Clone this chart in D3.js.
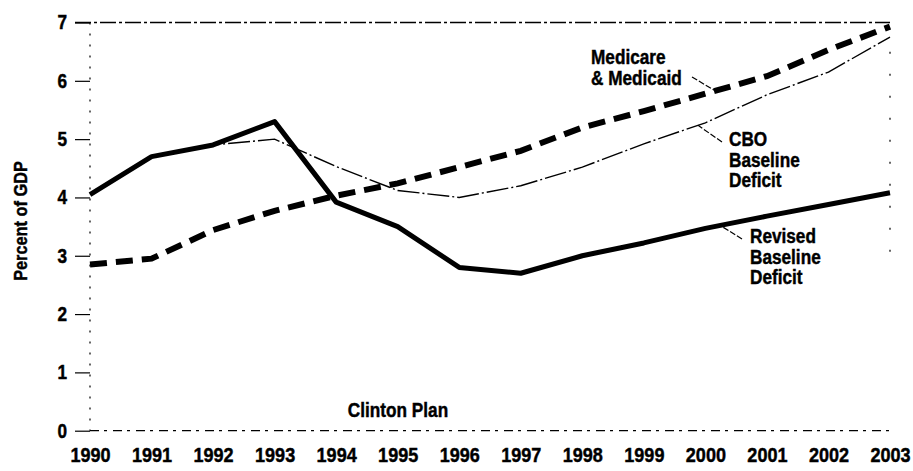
<!DOCTYPE html>
<html>
<head>
<meta charset="utf-8">
<script src="https://cdn.jsdelivr.net/npm/d3@7"></script>
<style>
  body { margin: 0; background: #fff; }
  text { font-family: "Liberation Sans", Arial, sans-serif; font-weight: bold; fill: #000; stroke: #000; stroke-width: 0.45px; }
</style>
</head>
<body>
<script>
// data
const years = [1990, 1991, 1992, 1993, 1994, 1995, 1996, 1997, 1998, 1999, 2000, 2001, 2002, 2003]
const revisedDeficit = [4.05, 4.7, 4.9, 5.3, 3.92, 3.5, 2.8, 2.7, 3.0, 3.22, 3.47, 3.68, 3.88, 4.08]
const cboDeficit = [4.05, 4.7, 4.9, 5.0, 4.53, 4.12, 4.0, 4.2, 4.52, 4.92, 5.28, 5.76, 6.15, 6.75]
const medicare = [2.85, 2.95, 3.44, 3.77, 4.03, 4.24, 4.52, 4.8, 5.2, 5.48, 5.78, 6.08, 6.53, 6.93]
const yTicks = [0, 1, 2, 3, 4, 5, 6, 7]

const width = 913, height = 471
const squeeze = 0.86   // fake a condensed face

const svg = d3.select("body").append("svg")
    .attr("width", width)
    .attr("height", height)

let x = d3.scaleLinear().domain([1990, 2003]).range([90, 890])
let y = d3.scaleLinear().domain([0, 7]).range([430.7, 22.5])

function addText(px, py, str, size, anchor) {
    return svg.append("text")
        .attr("transform", "translate(" + px + "," + py + ") scale(" + squeeze + ",1)")
        .attr("text-anchor", anchor || "start")
        .style("font-size", size + "px")
        .text(str)
}

// frame: broken lines like the scanned original
svg.append("line")
    .attr("x1", 75).attr("x2", x(2003)).attr("y1", y(7)).attr("y2", y(7))
    .attr("stroke", "#000").attr("stroke-width", 1.3).attr("stroke-dasharray", "16,3,3,3")
svg.append("line")
    .attr("x1", x(1990)).attr("x2", x(2003)).attr("y1", y(0)).attr("y2", y(0))
    .attr("stroke", "#000").attr("stroke-width", 1.2).attr("stroke-dasharray", "9,5,3,6")
svg.append("line")
    .attr("x1", x(1990)).attr("x2", x(1990)).attr("y1", y(7)).attr("y2", y(0))
    .attr("stroke", "#000").attr("stroke-width", 1.2).attr("stroke-dasharray", "2,9")
svg.append("line")
    .attr("x1", x(2003)).attr("x2", x(2003)).attr("y1", y(6.5)).attr("y2", y(2.8))
    .attr("stroke", "#000").attr("stroke-width", 1.2).attr("stroke-dasharray", "2,20")

// y axis
let yAxis = d3.axisLeft(y).tickValues(yTicks).tickSize(15).tickPadding(8).tickFormat(d3.format("d"))
let gy = svg.append("g").attr("transform", "translate(" + x(1990) + ",0)").call(yAxis)
gy.select(".domain").remove()
gy.selectAll(".tick line").attr("stroke-width", 1.2)
gy.selectAll(".tick text")
    .style("font-size", "20px")
    .attr("x", -23 / squeeze)
    .attr("transform", "scale(" + squeeze + ",1)")

// x axis labels
let xAxis = d3.axisBottom(x).tickValues(years).tickSize(0).tickPadding(16).tickFormat(d3.format("d"))
let gx = svg.append("g").attr("transform", "translate(0," + y(0) + ")").call(xAxis)
gx.select(".domain").remove()
gx.selectAll(".tick text")
    .style("font-size", "21px")
    .attr("transform", "scale(" + squeeze + ",1)")

svg.append("text")
    .attr("transform", "translate(27,221) rotate(-90) scale(" + squeeze + ",1)")
    .attr("text-anchor", "middle")
    .style("font-size", "19px")
    .text("Percent of GDP")

addText(398, 417, "Clinton Plan", 20, "middle")

let line = d3.line()
    .x((d, i) => x(years[i]))
    .y(d => y(d))

svg.append("path").datum(cboDeficit)
    .attr("d", line)
    .attr("fill", "none").attr("stroke", "#000").attr("stroke-width", 1.4)
    .attr("stroke-dasharray", "22,3,2,3")

svg.append("path").datum(revisedDeficit)
    .attr("d", line)
    .attr("fill", "none").attr("stroke", "#000").attr("stroke-width", 5)
    .attr("stroke-linejoin", "round")

svg.append("path").datum(medicare)
    .attr("d", line)
    .attr("fill", "none").attr("stroke", "#000").attr("stroke-width", 6)
    .attr("stroke-dasharray", "17,9")

// series labels with leader lines
const labels = [
    { lines: ["Medicare", "& Medicaid"], tx: 591, ty: 64, from: [692, 77], year: 2000.16, series: medicare },
    { lines: ["CBO", "Baseline", "Deficit"], tx: 729, ty: 146, from: [722, 142], year: 1999.88, series: cboDeficit },
    { lines: ["Revised", "Baseline", "Deficit"], tx: 750, ty: 243, from: [742, 239], year: 2000.24, series: revisedDeficit }
]

function valueAt(series, yr) {
    let i = Math.min(Math.floor(yr - 1990), years.length - 2)
    let t = yr - years[i]
    return series[i] + (series[i + 1] - series[i]) * t
}

for (let lab of labels) {
    lab.lines.forEach((s, k) => {
        addText(lab.tx, lab.ty + k * 20.5, s, 20)
    })
    svg.append("line")
        .attr("x1", lab.from[0]).attr("y1", lab.from[1])
        .attr("x2", x(lab.year)).attr("y2", y(valueAt(lab.series, lab.year)))
        .attr("stroke", "#000").attr("stroke-width", 1.2)
        .attr("stroke-dasharray", "6,2")
}
</script>
</body>
</html>
